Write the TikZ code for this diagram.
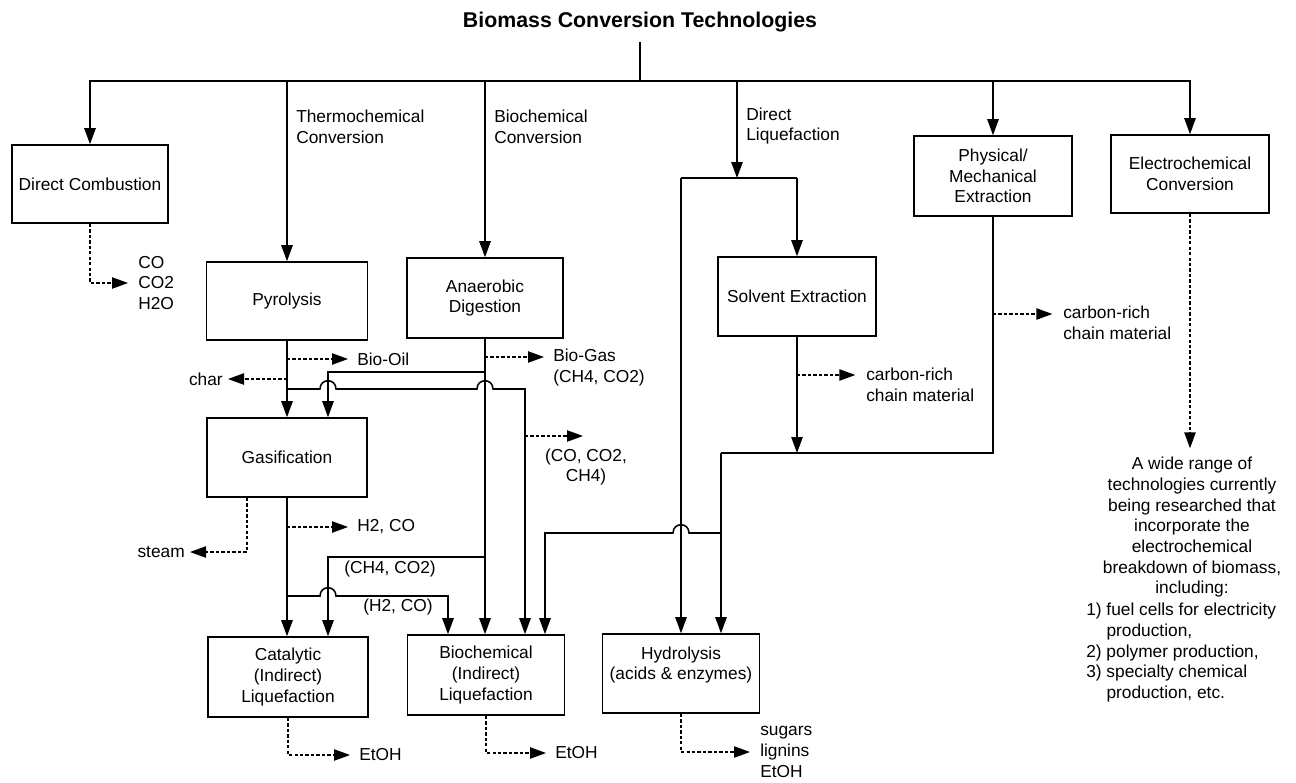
\documentclass[tikz,border=0pt]{standalone}
\usepackage{fontspec}
\setmainfont{Liberation Sans}
\usetikzlibrary{arrows.meta}
\begin{document}
\begin{tikzpicture}[x=0.75pt,y=-0.75pt,
  every node/.style={font=\fontsize{13}{15.5}\selectfont, inner sep=0pt},
  box/.style={draw, line width=1.15pt, align=center},
  ln/.style={line width=1.15pt},
  arr/.style={ln, -{Triangle[length=12pt,width=8.5pt]}},
  darr/.style={arr, line width=1pt, dash pattern=on 2.5pt off 1.6pt},
  lbl/.style={align=left, anchor=west}]
\useasboundingbox (0,0) rectangle (1296,782);

% title and boxes
\node[font=\bfseries\fontsize{16}{19}\selectfont] (title) at (640,22) {Biomass Conversion Technologies};
\node[box, minimum width=117pt, minimum height=58.5pt] (dc) at (90,184) {Direct Combustion};
\node[box, minimum width=120.75pt, minimum height=58.5pt] (pyro) at (287,301) {Pyrolysis};
\node[box, minimum width=117pt, minimum height=60pt] (anaer) at (485,298) {Anaerobic\\Digestion};
\node[box, minimum width=120pt, minimum height=59.25pt] (gasif) at (287,457.5) {Gasification};
\node[box, minimum width=118.5pt, minimum height=59.25pt] (solv) at (797,296.5) {Solvent Extraction};
\node[box, minimum width=118.5pt, minimum height=60pt] (phys) at (993,176) {Physical/\\Mechanical\\Extraction};
\node[box, minimum width=118.5pt, minimum height=58.5pt] (elec) at (1190,174) {Electrochemical\\Conversion};
\node[box, minimum width=120pt, minimum height=60pt] (catal) at (288,677) {Catalytic\\(Indirect)\\Liquefaction};
\node[box, minimum width=117.75pt, minimum height=60pt] (bioind) at (486,675) {Biochemical\\(Indirect)\\Liquefaction};
\node[box, minimum width=117.75pt, minimum height=59.25pt] (hydro) at (681,673.5) {Hydrolysis\\(acids \& enzymes)\\\mbox{}};

% labels and products
\node[lbl] (lthermo) at (296,127) {Thermochemical\\Conversion};
\node[lbl] (lbio) at (494,127) {Biochemical\\Conversion};
\node[lbl] (ldl) at (746,126) {Direct\\Liquefaction};
\node[lbl] (dcout) at (138,283) {CO\\CO2\\H2O};
\node[lbl] (biooil) at (357,359) {Bio-Oil};
\node[anchor=east] (char) at (223,379) {char};
\node[lbl] (biogas) at (553,367.5) {Bio-Gas\\(CH4, CO2)};
\node[align=center] (cogas) at (586,467) {(CO, CO2,\\CH4)};
\node[lbl] (h2co) at (357,527) {H2, CO};
\node[anchor=east] (steam) at (185,552) {steam};
\node[lbl] (lch4) at (344,569) {(CH4, CO2)};
\node[lbl] (lh2) at (363,607) {(H2, CO)};
\node[lbl] (carb1) at (1063,323) {carbon-rich\\chain material};
\node[lbl] (carb2) at (866,385) {carbon-rich\\chain material};
\node[lbl] (etoh1) at (359,755) {EtOH};
\node[lbl] (etoh2) at (555,753) {EtOH};
\node[lbl] (sugars) at (760,752) {sugars\\lignins\\EtOH};
\node[align=center, anchor=north] (etext) at (1192,457) {A wide range of\\technologies currently\\being researched that\\incorporate the\\electrochemical\\breakdown of biomass,\\including:};
\node[align=left, anchor=north west] (elist) at (1086,603) {1) fuel cells for electricity\\\hphantom{1)\ }production,\\2) polymer production,\\3) specialty chemical\\\hphantom{3)\ }production, etc.};

% junction coordinates
\coordinate (bus) at (640,81);
\coordinate (dl) at (737,178);
\coordinate (pb) at (525,389);
\coordinate (ag) at (328,372);
\coordinate (ac) at (328,557);
\coordinate (gb) at (448,596);
\coordinate (sj) at (797,453);
\coordinate (hj) at (721,453);
\coordinate (hk) at (721,533);
\coordinate (bk) at (545,533);
\coordinate (so) at (797,375);
\coordinate (po) at (993,314);
\coordinate (pyo) at (287,359);
\coordinate (pyc) at (287,379);
\coordinate (ab) at (485,357);
\coordinate (co) at (525,436);
\coordinate (coend) at (583,436);
\coordinate (gh) at (287,527);

% top distribution
\draw[ln, shorten <=7pt] (title.south) -- (bus);
\draw[arr] (bus) -| (dc.north);
\draw[arr] (bus) -| (elec.north);
\draw[arr] (bus -| pyro.north) -- (pyro.north);
\draw[arr] (bus -| anaer.north) -- (anaer.north);
\draw[arr] (bus -| dl) -- (dl);
\draw[arr] (bus -| phys.north) -- (phys.north);

% direct liquefaction bracket
\draw[ln] (dl -| hydro.north) -- (dl -| solv.north);
\draw[arr] (dl -| hydro.north) -- (hydro.north);
\draw[arr] (dl -| solv.north) -- (solv.north);

% solvent / physical
\draw[arr] (solv.south) -- (sj);
\draw[ln] (phys.south) -- (phys.south |- sj) -- (hj);
\draw[arr] (hj) -- (hj |- hydro.north);
\draw[arr] (hk) -- (689,533) .. controls (689,522) and (673,522) .. (673,533) -- (bk) -- (bk |- bioind.north);
\draw[darr, shorten >=8pt] (so) -- (so -| carb2.west);
\draw[darr, shorten >=8pt] (po) -- (po -| carb1.west);
\draw[darr, shorten >=6.5pt] (elec.south) -- (elec.south |- etext.north);

% direct combustion
\draw[darr, shorten >=7.5pt] (dc.south) |- (dcout.west);

% pyrolysis
\draw[arr] (pyro.south) -- (pyro.south |- gasif.north);
\draw[darr, shorten >=6.75pt] (pyo) -- (biooil.west);
\draw[darr, shorten >=3.75pt] (pyc) -- (char.east);
\draw[arr] (pyro.south |- pb) -- (320,389) .. controls (320,378) and (336,378) .. (336,389) -- (477,389) .. controls (477,378) and (493,378) .. (493,389) -- (pb) -- (pb |- bioind.north);
\draw[darr] (co) -- (coend);

% anaerobic digestion
\draw[arr] (anaer.south) -- (anaer.south |- bioind.north);
\draw[darr, shorten >=6.75pt] (ab) -- (ab -| biogas.west);
\draw[arr] (anaer.south |- ag) -- (ag) -- (ag |- gasif.north);
\draw[arr] (anaer.south |- ac) -- (ac) -- (ac |- catal.north);

% gasification
\draw[arr] (gasif.south) -- (gasif.south |- catal.north);
\draw[darr, shorten >=6.75pt] (gh) -- (h2co.west);
\draw[darr, shorten >=3.75pt] ([xshift=-30pt]gasif.south) |- (steam.east);
\draw[arr] (gasif.south |- gb) -- (320,596) .. controls (320,585) and (336,585) .. (336,596) -- (gb) -- (gb |- bioind.north);

% products at bottom
\draw[darr, shorten >=6.75pt] (catal.south) |- (etoh1.west);
\draw[darr, shorten >=6.75pt] (bioind.south) |- (etoh2.west);
\draw[darr, shorten >=7.5pt] (hydro.south) |- (sugars.west);
\end{tikzpicture}
\end{document}
